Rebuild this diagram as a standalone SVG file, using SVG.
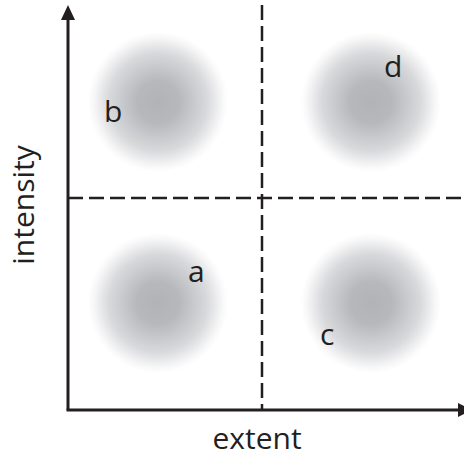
<svg xmlns="http://www.w3.org/2000/svg" width="464" height="457" viewBox="0 0 464 457">
<style>
.lbl{font-family:"Open Sans","Liberation Sans",sans-serif;font-size:30px;fill:#231f20}
.axis{stroke:#231f20;stroke-width:3;fill:none}
.dash{stroke:#231f20;stroke-width:2.5;fill:none;stroke-dasharray:15 6}
</style>
<defs>
<radialGradient id="g" cx="0.5" cy="0.5" r="0.5">
<stop offset="0" stop-color="#b2b3b7"/>
<stop offset="0.3" stop-color="#b7b8bc"/>
<stop offset="0.7" stop-color="#d8d9db"/>
<stop offset="0.92" stop-color="#f7f7f8"/>
<stop offset="1" stop-color="#ffffff"/>
</radialGradient>
</defs>
<rect width="464" height="457" fill="#fff"/>
<g id="blob-b"><circle cx="158" cy="102" r="70" fill="url(#g)"/><text class="lbl" x="104" y="122">b</text></g>
<g id="blob-d"><circle cx="371" cy="102" r="70" fill="url(#g)"/><text class="lbl" x="384" y="77">d</text></g>
<g id="blob-a"><circle cx="158" cy="303" r="70" fill="url(#g)"/><text class="lbl" x="188" y="282">a</text></g>
<g id="blob-c"><circle cx="371" cy="303" r="70" fill="url(#g)"/><text class="lbl" x="320" y="345">c</text></g>
<g id="connectors">
<line class="dash" x1="262" y1="5" x2="262" y2="410"/>
<line class="dash" x1="68" y1="198" x2="464" y2="198"/>
<line class="axis" x1="68" y1="20" x2="68" y2="410"/>
<line class="axis" x1="66.5" y1="410" x2="458" y2="410"/>
<polygon points="68,5 61,20 75,20" fill="#231f20"/>
<polygon points="472,410 458,403 458,417" fill="#231f20"/>
</g>
<g id="labels">
<text class="lbl" x="257" y="449" text-anchor="middle">extent</text>
<text class="lbl" transform="translate(34,205) rotate(-90)" text-anchor="middle">intensity</text>
</g>
</svg>
